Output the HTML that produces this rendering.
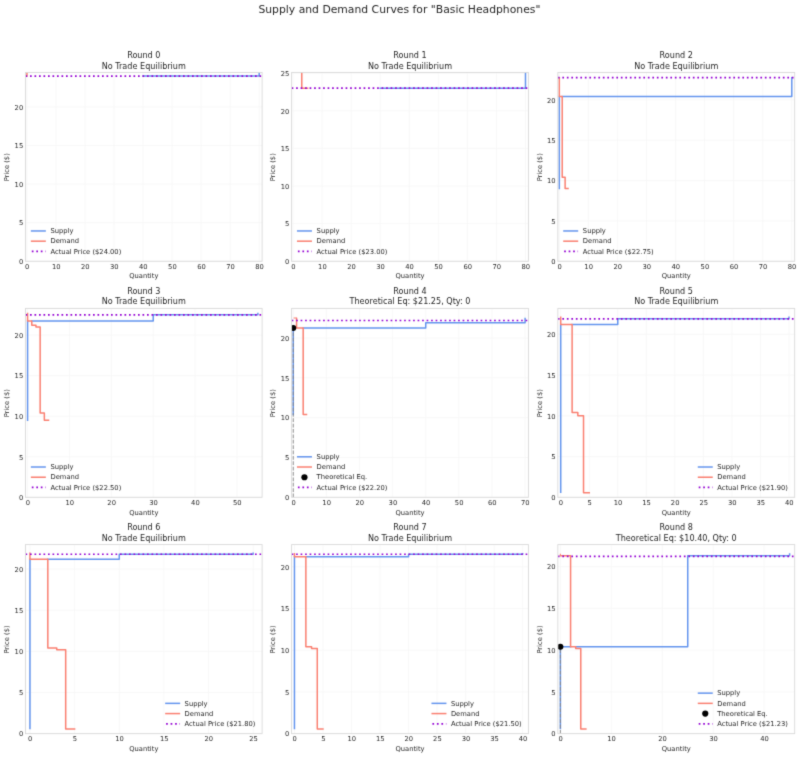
<!DOCTYPE html>
<html><head><meta charset="utf-8"><title>Supply and Demand Curves</title>
<style>
html,body{margin:0;padding:0;background:#fff}
svg{display:block}
svg text{font-family:"DejaVu Sans","Liberation Sans",sans-serif;font-size:6.75px;fill:#262626}
svg text.tt{font-size:8.1px}
svg text.st{font-size:10.8px}
</style></head><body>
<svg width="800" height="757" viewBox="0 0 800 757">
<defs><filter id="soft" x="0" y="0" width="800" height="757" filterUnits="userSpaceOnUse" color-interpolation-filters="sRGB"><feConvolveMatrix order="3" kernelMatrix="0.02 0.09 0.02 0.09 0.56 0.09 0.02 0.09 0.02" divisor="1" edgeMode="duplicate" preserveAlpha="true"/></filter></defs>
<g filter="url(#soft)">
<rect width="800" height="757" fill="#fff"/>
<text x="399.4" y="13" class="st" text-anchor="middle">Supply and Demand Curves for "Basic Headphones"</text>
<g>
<clipPath id="c0"><rect x="25.5" y="72.5" width="236.6" height="188.75"/></clipPath>
<path d="M26.95 72.5V261.25M55.98 72.5V261.25M85.01 72.5V261.25M114.04 72.5V261.25M143.07 72.5V261.25M172.1 72.5V261.25M201.14 72.5V261.25M230.17 72.5V261.25M259.2 72.5V261.25M25.5 261.25H262.1M25.5 222.68H262.1M25.5 184.1H262.1M25.5 145.53H262.1M25.5 106.95H262.1" stroke="#f6f6f6" stroke-width="0.8" fill="none"/>
<g clip-path="url(#c0)" fill="none" stroke-linejoin="round" stroke-width="1.5">
<polyline points="143.07,76.09 259.2,76.09 259.2,67.5" stroke="#6394ee" stroke-linecap="square"/>
<polyline points="26.95,67.5 26.95,76.09" stroke="#fa7f70" stroke-linecap="square"/>
<path d="M25.5 76.09H262.1" stroke="#9400d3" stroke-width="1.7" stroke-dasharray="1.7 2.8"/>
</g>
<rect x="25.5" y="72.5" width="236.6" height="188.75" fill="none" stroke="#d9d9d9" stroke-width="0.9"/>
<text x="27.25" y="269.05" text-anchor="middle">0</text>
<text x="56.28" y="269.05" text-anchor="middle">10</text>
<text x="85.31" y="269.05" text-anchor="middle">20</text>
<text x="114.34" y="269.05" text-anchor="middle">30</text>
<text x="143.37" y="269.05" text-anchor="middle">40</text>
<text x="172.4" y="269.05" text-anchor="middle">50</text>
<text x="201.44" y="269.05" text-anchor="middle">60</text>
<text x="230.47" y="269.05" text-anchor="middle">70</text>
<text x="259.5" y="269.05" text-anchor="middle">80</text>
<text x="23.2" y="264" text-anchor="end">0</text>
<text x="23.2" y="225.43" text-anchor="end">5</text>
<text x="23.2" y="186.85" text-anchor="end">10</text>
<text x="23.2" y="148.28" text-anchor="end">15</text>
<text x="23.2" y="109.7" text-anchor="end">20</text>
<text x="143.8" y="278.45" text-anchor="middle">Quantity</text>
<text transform="translate(9.3 167.28) rotate(-90)" text-anchor="middle">Price ($)</text>
<text x="143.8" y="58.2" text-anchor="middle" class="tt">Round 0</text>
<text x="143.8" y="68.5" text-anchor="middle" class="tt">No Trade Equilibrium</text>
<path d="M31.6 230.96h13.5" stroke="#6394ee" stroke-width="1.5" stroke-linecap="square"/>
<text x="50.5" y="233.16">Supply</text>
<path d="M31.6 241.18h13.5" stroke="#fa7f70" stroke-width="1.5" stroke-linecap="square"/>
<text x="50.5" y="243.38">Demand</text>
<path d="M31.8 251.4h13.9" stroke="#9400d3" stroke-width="1.7" stroke-dasharray="1.7 2.8"/>
<text x="50.5" y="253.6">Actual Price ($24.00)</text>
</g>
<g>
<clipPath id="c1"><rect x="291.6" y="72.5" width="236.8" height="188.75"/></clipPath>
<path d="M293.05 72.5V261.25M322.11 72.5V261.25M351.16 72.5V261.25M380.22 72.5V261.25M409.27 72.5V261.25M438.33 72.5V261.25M467.38 72.5V261.25M496.44 72.5V261.25M525.49 72.5V261.25M291.6 261.25H528.4M291.6 223.62H528.4M291.6 186H528.4M291.6 148.38H528.4M291.6 110.75H528.4M291.6 73.12H528.4" stroke="#f6f6f6" stroke-width="0.8" fill="none"/>
<g clip-path="url(#c1)" fill="none" stroke-linejoin="round" stroke-width="1.5">
<polyline points="380.22,88.17 525.49,88.17 525.49,67.5" stroke="#6394ee" stroke-linecap="square"/>
<polyline points="301.77,67.5 301.77,88.17 307.58,88.17" stroke="#fa7f70" stroke-linecap="square"/>
<path d="M291.6 88.17H528.4" stroke="#9400d3" stroke-width="1.7" stroke-dasharray="1.7 2.8"/>
</g>
<rect x="291.6" y="72.5" width="236.8" height="188.75" fill="none" stroke="#d9d9d9" stroke-width="0.9"/>
<text x="293.35" y="269.05" text-anchor="middle">0</text>
<text x="322.41" y="269.05" text-anchor="middle">10</text>
<text x="351.46" y="269.05" text-anchor="middle">20</text>
<text x="380.52" y="269.05" text-anchor="middle">30</text>
<text x="409.57" y="269.05" text-anchor="middle">40</text>
<text x="438.63" y="269.05" text-anchor="middle">50</text>
<text x="467.68" y="269.05" text-anchor="middle">60</text>
<text x="496.74" y="269.05" text-anchor="middle">70</text>
<text x="525.79" y="269.05" text-anchor="middle">80</text>
<text x="289.3" y="264" text-anchor="end">0</text>
<text x="289.3" y="226.38" text-anchor="end">5</text>
<text x="289.3" y="188.75" text-anchor="end">10</text>
<text x="289.3" y="151.12" text-anchor="end">15</text>
<text x="289.3" y="113.5" text-anchor="end">20</text>
<text x="289.3" y="75.88" text-anchor="end">25</text>
<text x="410" y="278.45" text-anchor="middle">Quantity</text>
<text transform="translate(275.4 167.28) rotate(-90)" text-anchor="middle">Price ($)</text>
<text x="410" y="58.2" text-anchor="middle" class="tt">Round 1</text>
<text x="410" y="68.5" text-anchor="middle" class="tt">No Trade Equilibrium</text>
<path d="M297.7 230.96h13.5" stroke="#6394ee" stroke-width="1.5" stroke-linecap="square"/>
<text x="316.6" y="233.16">Supply</text>
<path d="M297.7 241.18h13.5" stroke="#fa7f70" stroke-width="1.5" stroke-linecap="square"/>
<text x="316.6" y="243.38">Demand</text>
<path d="M297.9 251.4h13.9" stroke="#9400d3" stroke-width="1.7" stroke-dasharray="1.7 2.8"/>
<text x="316.6" y="253.6">Actual Price ($23.00)</text>
</g>
<g>
<clipPath id="c2"><rect x="557.85" y="72.5" width="236.85" height="188.75"/></clipPath>
<path d="M559.3 72.5V261.25M588.36 72.5V261.25M617.43 72.5V261.25M646.49 72.5V261.25M675.55 72.5V261.25M704.61 72.5V261.25M733.67 72.5V261.25M762.73 72.5V261.25M791.79 72.5V261.25M557.85 261.25H794.7M557.85 220.9H794.7M557.85 180.55H794.7M557.85 140.2H794.7M557.85 99.85H794.7" stroke="#f6f6f6" stroke-width="0.8" fill="none"/>
<g clip-path="url(#c2)" fill="none" stroke-linejoin="round" stroke-width="1.5">
<polyline points="559.3,188.62 559.3,96.62" stroke="#6394ee" stroke-linecap="square"/>
<polyline points="562.21,96.62 791.79,96.62 791.79,77.66" stroke="#6394ee" stroke-linecap="square"/>
<polyline points="559.3,77.66 559.3,96.62 562.21,96.62 562.21,177.32 565.12,177.32 565.12,188.62 568.02,188.62" stroke="#fa7f70" stroke-linecap="square"/>
<path d="M557.85 77.66H794.7" stroke="#9400d3" stroke-width="1.7" stroke-dasharray="1.7 2.8"/>
</g>
<rect x="557.85" y="72.5" width="236.85" height="188.75" fill="none" stroke="#d9d9d9" stroke-width="0.9"/>
<text x="559.6" y="269.05" text-anchor="middle">0</text>
<text x="588.66" y="269.05" text-anchor="middle">10</text>
<text x="617.73" y="269.05" text-anchor="middle">20</text>
<text x="646.79" y="269.05" text-anchor="middle">30</text>
<text x="675.85" y="269.05" text-anchor="middle">40</text>
<text x="704.91" y="269.05" text-anchor="middle">50</text>
<text x="733.97" y="269.05" text-anchor="middle">60</text>
<text x="763.03" y="269.05" text-anchor="middle">70</text>
<text x="792.09" y="269.05" text-anchor="middle">80</text>
<text x="555.55" y="264" text-anchor="end">0</text>
<text x="555.55" y="223.65" text-anchor="end">5</text>
<text x="555.55" y="183.3" text-anchor="end">10</text>
<text x="555.55" y="142.95" text-anchor="end">15</text>
<text x="555.55" y="102.6" text-anchor="end">20</text>
<text x="676.28" y="278.45" text-anchor="middle">Quantity</text>
<text transform="translate(541.65 167.28) rotate(-90)" text-anchor="middle">Price ($)</text>
<text x="676.28" y="58.2" text-anchor="middle" class="tt">Round 2</text>
<text x="676.28" y="68.5" text-anchor="middle" class="tt">No Trade Equilibrium</text>
<path d="M563.95 230.96h13.5" stroke="#6394ee" stroke-width="1.5" stroke-linecap="square"/>
<text x="582.85" y="233.16">Supply</text>
<path d="M563.95 241.18h13.5" stroke="#fa7f70" stroke-width="1.5" stroke-linecap="square"/>
<text x="582.85" y="243.38">Demand</text>
<path d="M564.15 251.4h13.9" stroke="#9400d3" stroke-width="1.7" stroke-dasharray="1.7 2.8"/>
<text x="582.85" y="253.6">Actual Price ($22.75)</text>
</g>
<g>
<clipPath id="c3"><rect x="25.5" y="308.4" width="236.6" height="188.9"/></clipPath>
<path d="M27.59 308.4V497.3M69.47 308.4V497.3M111.35 308.4V497.3M153.22 308.4V497.3M195.1 308.4V497.3M236.97 308.4V497.3M25.5 497.3H262.1M25.5 456.75H262.1M25.5 416.2H262.1M25.5 375.65H262.1M25.5 335.1H262.1" stroke="#f6f6f6" stroke-width="0.8" fill="none"/>
<g clip-path="url(#c3)" fill="none" stroke-linejoin="round" stroke-width="1.5">
<polyline points="27.59,420.25 27.59,320.91" stroke="#6394ee" stroke-linecap="square"/>
<polyline points="31.78,320.91 153.22,320.91 153.22,314.83 257.91,314.83 257.91,313.53" stroke="#6394ee" stroke-linecap="square"/>
<polyline points="27.59,313.53 27.59,320.91 31.78,320.91 31.78,325.37 35.97,325.37 35.97,326.99 40.16,326.99 40.16,412.96 44.34,412.96 44.34,420.25 48.53,420.25" stroke="#fa7f70" stroke-linecap="square"/>
<path d="M25.5 314.83H262.1" stroke="#9400d3" stroke-width="1.7" stroke-dasharray="1.7 2.8"/>
</g>
<rect x="25.5" y="308.4" width="236.6" height="188.9" fill="none" stroke="#d9d9d9" stroke-width="0.9"/>
<text x="27.89" y="505.1" text-anchor="middle">0</text>
<text x="69.77" y="505.1" text-anchor="middle">10</text>
<text x="111.65" y="505.1" text-anchor="middle">20</text>
<text x="153.52" y="505.1" text-anchor="middle">30</text>
<text x="195.4" y="505.1" text-anchor="middle">40</text>
<text x="237.27" y="505.1" text-anchor="middle">50</text>
<text x="23.2" y="500.05" text-anchor="end">0</text>
<text x="23.2" y="459.5" text-anchor="end">5</text>
<text x="23.2" y="418.95" text-anchor="end">10</text>
<text x="23.2" y="378.4" text-anchor="end">15</text>
<text x="23.2" y="337.85" text-anchor="end">20</text>
<text x="143.8" y="514.5" text-anchor="middle">Quantity</text>
<text transform="translate(9.3 403.25) rotate(-90)" text-anchor="middle">Price ($)</text>
<text x="143.8" y="294.1" text-anchor="middle" class="tt">Round 3</text>
<text x="143.8" y="304.4" text-anchor="middle" class="tt">No Trade Equilibrium</text>
<path d="M31.6 467.01h13.5" stroke="#6394ee" stroke-width="1.5" stroke-linecap="square"/>
<text x="50.5" y="469.21">Supply</text>
<path d="M31.6 477.23h13.5" stroke="#fa7f70" stroke-width="1.5" stroke-linecap="square"/>
<text x="50.5" y="479.43">Demand</text>
<path d="M31.8 487.45h13.9" stroke="#9400d3" stroke-width="1.7" stroke-dasharray="1.7 2.8"/>
<text x="50.5" y="489.65">Actual Price ($22.50)</text>
</g>
<g>
<clipPath id="c4"><rect x="291.6" y="308.4" width="236.8" height="188.9"/></clipPath>
<path d="M293.26 308.4V497.3M326.37 308.4V497.3M359.49 308.4V497.3M392.61 308.4V497.3M425.73 308.4V497.3M458.85 308.4V497.3M491.97 308.4V497.3M525.09 308.4V497.3M291.6 497.3H528.4M291.6 457.48H528.4M291.6 417.65H528.4M291.6 377.83H528.4M291.6 338H528.4" stroke="#f6f6f6" stroke-width="0.8" fill="none"/>
<g clip-path="url(#c4)" fill="none" stroke-linejoin="round" stroke-width="1.5">
<polyline points="293.26,414.46 293.26,328.04" stroke="#6394ee" stroke-linecap="square"/>
<polyline points="303.19,328.04 425.73,328.04 425.73,322.87 525.09,322.87 525.09,318.49" stroke="#6394ee" stroke-linecap="square"/>
<polyline points="296.57,318.49 296.57,328.04 303.19,328.04 303.19,414.46 306.5,414.46" stroke="#fa7f70" stroke-linecap="square"/>
<polyline points="293.59,318.09 296.9,318.09" stroke="#fa7f70" stroke-width="1.05"/>
<path d="M293.26 497.3V328.04M291.6 328.04H293.26" stroke="#808080" stroke-opacity="0.85" stroke-width="1.05" stroke-dasharray="3.75 1.62"/>
<circle cx="293.26" cy="328.04" r="3.0" fill="#000" stroke="none"/>
<path d="M291.6 320.48H528.4" stroke="#9400d3" stroke-width="1.7" stroke-dasharray="1.7 2.8"/>
</g>
<rect x="291.6" y="308.4" width="236.8" height="188.9" fill="none" stroke="#d9d9d9" stroke-width="0.9"/>
<text x="293.56" y="505.1" text-anchor="middle">0</text>
<text x="326.67" y="505.1" text-anchor="middle">10</text>
<text x="359.79" y="505.1" text-anchor="middle">20</text>
<text x="392.91" y="505.1" text-anchor="middle">30</text>
<text x="426.03" y="505.1" text-anchor="middle">40</text>
<text x="459.15" y="505.1" text-anchor="middle">50</text>
<text x="492.27" y="505.1" text-anchor="middle">60</text>
<text x="525.39" y="505.1" text-anchor="middle">70</text>
<text x="289.3" y="500.05" text-anchor="end">0</text>
<text x="289.3" y="460.23" text-anchor="end">5</text>
<text x="289.3" y="420.4" text-anchor="end">10</text>
<text x="289.3" y="380.58" text-anchor="end">15</text>
<text x="289.3" y="340.75" text-anchor="end">20</text>
<text x="410" y="514.5" text-anchor="middle">Quantity</text>
<text transform="translate(275.4 403.25) rotate(-90)" text-anchor="middle">Price ($)</text>
<text x="410" y="294.1" text-anchor="middle" class="tt">Round 4</text>
<text x="410" y="304.4" text-anchor="middle" class="tt">Theoretical Eq: $21.25, Qty: 0</text>
<path d="M297.7 456.79h13.5" stroke="#6394ee" stroke-width="1.5" stroke-linecap="square"/>
<text x="316.6" y="458.99">Supply</text>
<path d="M297.7 467.01h13.5" stroke="#fa7f70" stroke-width="1.5" stroke-linecap="square"/>
<text x="316.6" y="469.21">Demand</text>
<circle cx="304.45" cy="477.23" r="3.1" fill="#000"/>
<text x="316.6" y="479.43">Theoretical Eq.</text>
<path d="M297.9 487.45h13.9" stroke="#9400d3" stroke-width="1.7" stroke-dasharray="1.7 2.8"/>
<text x="316.6" y="489.65">Actual Price ($22.20)</text>
</g>
<g>
<clipPath id="c5"><rect x="557.85" y="308.4" width="236.85" height="188.9"/></clipPath>
<path d="M560.7 308.4V497.3M589.24 308.4V497.3M617.78 308.4V497.3M646.31 308.4V497.3M674.85 308.4V497.3M703.38 308.4V497.3M731.92 308.4V497.3M760.46 308.4V497.3M788.99 308.4V497.3M557.85 497.3H794.7M557.85 456.55H794.7M557.85 415.8H794.7M557.85 375.05H794.7M557.85 334.3H794.7" stroke="#f6f6f6" stroke-width="0.8" fill="none"/>
<g clip-path="url(#c5)" fill="none" stroke-linejoin="round" stroke-width="1.5">
<polyline points="560.7,492.25 560.7,324.52" stroke="#6394ee" stroke-linecap="square"/>
<polyline points="572.12,324.52 617.78,324.52 617.78,318.82 788.99,318.82 788.99,317.19" stroke="#6394ee" stroke-linecap="square"/>
<polyline points="560.7,317.19 560.7,324.52 572.12,324.52 572.12,412.54 577.83,412.54 577.83,415.8 583.53,415.8 583.53,492.74 589.24,492.74" stroke="#fa7f70" stroke-linecap="square"/>
<path d="M557.85 318.82H794.7" stroke="#9400d3" stroke-width="1.7" stroke-dasharray="1.7 2.8"/>
</g>
<rect x="557.85" y="308.4" width="236.85" height="188.9" fill="none" stroke="#d9d9d9" stroke-width="0.9"/>
<text x="561" y="505.1" text-anchor="middle">0</text>
<text x="589.54" y="505.1" text-anchor="middle">5</text>
<text x="618.08" y="505.1" text-anchor="middle">10</text>
<text x="646.61" y="505.1" text-anchor="middle">15</text>
<text x="675.15" y="505.1" text-anchor="middle">20</text>
<text x="703.68" y="505.1" text-anchor="middle">25</text>
<text x="732.22" y="505.1" text-anchor="middle">30</text>
<text x="760.76" y="505.1" text-anchor="middle">35</text>
<text x="789.29" y="505.1" text-anchor="middle">40</text>
<text x="555.55" y="500.05" text-anchor="end">0</text>
<text x="555.55" y="459.3" text-anchor="end">5</text>
<text x="555.55" y="418.55" text-anchor="end">10</text>
<text x="555.55" y="377.8" text-anchor="end">15</text>
<text x="555.55" y="337.05" text-anchor="end">20</text>
<text x="676.28" y="514.5" text-anchor="middle">Quantity</text>
<text transform="translate(541.65 403.25) rotate(-90)" text-anchor="middle">Price ($)</text>
<text x="676.28" y="294.1" text-anchor="middle" class="tt">Round 5</text>
<text x="676.28" y="304.4" text-anchor="middle" class="tt">No Trade Equilibrium</text>
<path d="M698.51 467.01h13.5" stroke="#6394ee" stroke-width="1.5" stroke-linecap="square"/>
<text x="717.21" y="469.21">Supply</text>
<path d="M698.51 477.23h13.5" stroke="#fa7f70" stroke-width="1.5" stroke-linecap="square"/>
<text x="717.21" y="479.43">Demand</text>
<path d="M698.71 487.45h13.9" stroke="#9400d3" stroke-width="1.7" stroke-dasharray="1.7 2.8"/>
<text x="717.21" y="489.65">Actual Price ($21.90)</text>
</g>
<g>
<clipPath id="c6"><rect x="25.5" y="544.6" width="236.6" height="189.05"/></clipPath>
<path d="M29.96 544.6V733.65M74.61 544.6V733.65M119.25 544.6V733.65M163.89 544.6V733.65M208.53 544.6V733.65M253.17 544.6V733.65M25.5 733.65H262.1M25.5 692.5H262.1M25.5 651.35H262.1M25.5 610.2H262.1M25.5 569.05H262.1" stroke="#f6f6f6" stroke-width="0.8" fill="none"/>
<g clip-path="url(#c6)" fill="none" stroke-linejoin="round" stroke-width="1.5">
<polyline points="29.96,728.55 29.96,559.17" stroke="#6394ee" stroke-linecap="square"/>
<polyline points="47.82,559.17 119.25,559.17 119.25,554.24 253.17,554.24 253.17,553.25" stroke="#6394ee" stroke-linecap="square"/>
<polyline points="29.96,553.25 29.96,559.17 47.82,559.17 47.82,648.06 56.75,648.06 56.75,649.7 65.68,649.7 65.68,729.04 74.61,729.04" stroke="#fa7f70" stroke-linecap="square"/>
<path d="M25.5 554.24H262.1" stroke="#9400d3" stroke-width="1.7" stroke-dasharray="1.7 2.8"/>
</g>
<rect x="25.5" y="544.6" width="236.6" height="189.05" fill="none" stroke="#d9d9d9" stroke-width="0.9"/>
<text x="30.26" y="741.45" text-anchor="middle">0</text>
<text x="74.91" y="741.45" text-anchor="middle">5</text>
<text x="119.55" y="741.45" text-anchor="middle">10</text>
<text x="164.19" y="741.45" text-anchor="middle">15</text>
<text x="208.83" y="741.45" text-anchor="middle">20</text>
<text x="253.47" y="741.45" text-anchor="middle">25</text>
<text x="23.2" y="736.4" text-anchor="end">0</text>
<text x="23.2" y="695.25" text-anchor="end">5</text>
<text x="23.2" y="654.1" text-anchor="end">10</text>
<text x="23.2" y="612.95" text-anchor="end">15</text>
<text x="23.2" y="571.8" text-anchor="end">20</text>
<text x="143.8" y="750.85" text-anchor="middle">Quantity</text>
<text transform="translate(9.3 639.52) rotate(-90)" text-anchor="middle">Price ($)</text>
<text x="143.8" y="530.3" text-anchor="middle" class="tt">Round 6</text>
<text x="143.8" y="540.6" text-anchor="middle" class="tt">No Trade Equilibrium</text>
<path d="M165.91 703.36h13.5" stroke="#6394ee" stroke-width="1.5" stroke-linecap="square"/>
<text x="184.61" y="705.56">Supply</text>
<path d="M165.91 713.58h13.5" stroke="#fa7f70" stroke-width="1.5" stroke-linecap="square"/>
<text x="184.61" y="715.78">Demand</text>
<path d="M166.11 723.8h13.9" stroke="#9400d3" stroke-width="1.7" stroke-dasharray="1.7 2.8"/>
<text x="184.61" y="726">Actual Price ($21.80)</text>
</g>
<g>
<clipPath id="c7"><rect x="291.6" y="544.6" width="236.8" height="189.05"/></clipPath>
<path d="M294.45 544.6V733.65M322.98 544.6V733.65M351.51 544.6V733.65M380.04 544.6V733.65M408.57 544.6V733.65M437.1 544.6V733.65M465.63 544.6V733.65M494.16 544.6V733.65M522.69 544.6V733.65M291.6 733.65H528.4M291.6 691.92H528.4M291.6 650.2H528.4M291.6 608.47H528.4M291.6 566.75H528.4" stroke="#f6f6f6" stroke-width="0.8" fill="none"/>
<g clip-path="url(#c7)" fill="none" stroke-linejoin="round" stroke-width="1.5">
<polyline points="294.45,728.48 294.45,556.74" stroke="#6394ee" stroke-linecap="square"/>
<polyline points="305.87,556.74 408.57,556.74 408.57,554.23 522.69,554.23 522.69,553.73" stroke="#6394ee" stroke-linecap="square"/>
<polyline points="294.45,553.73 294.45,556.74 305.87,556.74 305.87,646.86 311.57,646.86 311.57,648.53 317.28,648.53 317.28,728.98 322.98,728.98" stroke="#fa7f70" stroke-linecap="square"/>
<path d="M291.6 554.23H528.4" stroke="#9400d3" stroke-width="1.7" stroke-dasharray="1.7 2.8"/>
</g>
<rect x="291.6" y="544.6" width="236.8" height="189.05" fill="none" stroke="#d9d9d9" stroke-width="0.9"/>
<text x="294.75" y="741.45" text-anchor="middle">0</text>
<text x="323.28" y="741.45" text-anchor="middle">5</text>
<text x="351.81" y="741.45" text-anchor="middle">10</text>
<text x="380.34" y="741.45" text-anchor="middle">15</text>
<text x="408.87" y="741.45" text-anchor="middle">20</text>
<text x="437.4" y="741.45" text-anchor="middle">25</text>
<text x="465.93" y="741.45" text-anchor="middle">30</text>
<text x="494.46" y="741.45" text-anchor="middle">35</text>
<text x="522.99" y="741.45" text-anchor="middle">40</text>
<text x="289.3" y="736.4" text-anchor="end">0</text>
<text x="289.3" y="694.67" text-anchor="end">5</text>
<text x="289.3" y="652.95" text-anchor="end">10</text>
<text x="289.3" y="611.22" text-anchor="end">15</text>
<text x="289.3" y="569.5" text-anchor="end">20</text>
<text x="410" y="750.85" text-anchor="middle">Quantity</text>
<text transform="translate(275.4 639.52) rotate(-90)" text-anchor="middle">Price ($)</text>
<text x="410" y="530.3" text-anchor="middle" class="tt">Round 7</text>
<text x="410" y="540.6" text-anchor="middle" class="tt">No Trade Equilibrium</text>
<path d="M432.21 703.36h13.5" stroke="#6394ee" stroke-width="1.5" stroke-linecap="square"/>
<text x="450.91" y="705.56">Supply</text>
<path d="M432.21 713.58h13.5" stroke="#fa7f70" stroke-width="1.5" stroke-linecap="square"/>
<text x="450.91" y="715.78">Demand</text>
<path d="M432.41 723.8h13.9" stroke="#9400d3" stroke-width="1.7" stroke-dasharray="1.7 2.8"/>
<text x="450.91" y="726">Actual Price ($21.50)</text>
</g>
<g>
<clipPath id="c8"><rect x="557.85" y="544.6" width="236.85" height="189.05"/></clipPath>
<path d="M560.4 544.6V733.65M611.33 544.6V733.65M662.27 544.6V733.65M713.2 544.6V733.65M764.14 544.6V733.65M557.85 733.65H794.7M557.85 691.9H794.7M557.85 650.15H794.7M557.85 608.4H794.7M557.85 566.65H794.7" stroke="#f6f6f6" stroke-width="0.8" fill="none"/>
<g clip-path="url(#c8)" fill="none" stroke-linejoin="round" stroke-width="1.5">
<polyline points="560.4,728.47 560.4,646.81 570.58,646.81" stroke="#6394ee" stroke-linecap="square"/>
<polyline points="575.68,646.81 687.74,646.81 687.74,555.79 789.61,555.79 789.61,553.96" stroke="#6394ee" stroke-linecap="square"/>
<polyline points="560.4,555.79 570.58,555.79 570.58,646.81 575.68,646.81 575.68,648.48 580.77,648.48 580.77,728.97 585.86,728.97" stroke="#fa7f70" stroke-linecap="square"/>
<polyline points="560.4,553.71 560.4,555.79" stroke="#fa7f70" stroke-width="1.05"/>
<path d="M560.4 733.65V646.81M557.85 646.81H560.4" stroke="#808080" stroke-opacity="0.85" stroke-width="1.05" stroke-dasharray="3.75 1.62"/>
<circle cx="560.4" cy="646.81" r="3.0" fill="#000" stroke="none"/>
<path d="M557.85 556.38H794.7" stroke="#9400d3" stroke-width="1.7" stroke-dasharray="1.7 2.8"/>
</g>
<rect x="557.85" y="544.6" width="236.85" height="189.05" fill="none" stroke="#d9d9d9" stroke-width="0.9"/>
<text x="560.7" y="741.45" text-anchor="middle">0</text>
<text x="611.63" y="741.45" text-anchor="middle">10</text>
<text x="662.57" y="741.45" text-anchor="middle">20</text>
<text x="713.5" y="741.45" text-anchor="middle">30</text>
<text x="764.44" y="741.45" text-anchor="middle">40</text>
<text x="555.55" y="736.4" text-anchor="end">0</text>
<text x="555.55" y="694.65" text-anchor="end">5</text>
<text x="555.55" y="652.9" text-anchor="end">10</text>
<text x="555.55" y="611.15" text-anchor="end">15</text>
<text x="555.55" y="569.4" text-anchor="end">20</text>
<text x="676.28" y="750.85" text-anchor="middle">Quantity</text>
<text transform="translate(541.65 639.52) rotate(-90)" text-anchor="middle">Price ($)</text>
<text x="676.28" y="530.3" text-anchor="middle" class="tt">Round 8</text>
<text x="676.28" y="540.6" text-anchor="middle" class="tt">Theoretical Eq: $10.40, Qty: 0</text>
<path d="M698.51 693.14h13.5" stroke="#6394ee" stroke-width="1.5" stroke-linecap="square"/>
<text x="717.21" y="695.34">Supply</text>
<path d="M698.51 703.36h13.5" stroke="#fa7f70" stroke-width="1.5" stroke-linecap="square"/>
<text x="717.21" y="705.56">Demand</text>
<circle cx="705.26" cy="713.58" r="3.1" fill="#000"/>
<text x="717.21" y="715.78">Theoretical Eq.</text>
<path d="M698.71 723.8h13.9" stroke="#9400d3" stroke-width="1.7" stroke-dasharray="1.7 2.8"/>
<text x="717.21" y="726">Actual Price ($21.23)</text>
</g>
</g>
</svg>
</body></html>
